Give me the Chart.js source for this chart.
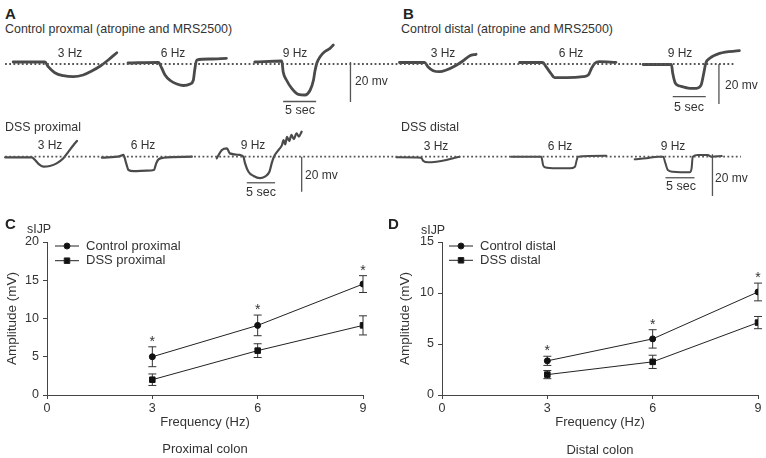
<!DOCTYPE html>
<html>
<head>
<meta charset="utf-8">
<script src="https://cdn.jsdelivr.net/npm/chart.js@4.4.1/dist/chart.umd.min.js"></script>
<style>
  body { margin: 0; width: 766px; height: 458px; background: #fff; position: relative; overflow: hidden;
         font-family: "Liberation Sans", Arial, sans-serif; color: #333; }
  canvas { position: absolute; }
  .t { position: absolute; white-space: nowrap; font-size: 12px; line-height: 1; }
  .cc { transform: translate(-50%, -50%); }
  .lc { transform: translate(0, -50%); }
  .hd { font-size: 13.5px; transform: translate(0, -50%) scaleX(0.92); transform-origin: 0 50%; }
  .big { font-size: 15px; font-weight: bold; color: #222; }
  .sub { font-size: 13px; }
  .sec { font-size: 12.5px; }
</style>
</head>
<body>

<canvas id="aTop" width="383" height="80" style="left:0;top:38px"></canvas>
<canvas id="bTop" width="383" height="80" style="left:383px;top:38px"></canvas>
<canvas id="aBot" width="383" height="85" style="left:0;top:120px"></canvas>
<canvas id="bBot" width="383" height="85" style="left:383px;top:120px"></canvas>
<canvas id="cChart" width="383" height="233" style="left:0;top:225px"></canvas>
<canvas id="dChart" width="383" height="233" style="left:383px;top:225px"></canvas>

<!-- panel A / B texts -->
<div class="t lc big" style="left:5px;top:13px">A</div>
<div class="t lc big" style="left:403px;top:13px">B</div>
<div class="t hd" style="left:5px;top:29px">Control proxmal (atropine and MRS2500)</div>
<div class="t hd" style="left:401px;top:29px">Control distal (atropine and MRS2500)</div>
<div class="t cc" style="left:70px;top:53px">3 Hz</div>
<div class="t cc" style="left:173px;top:53px">6 Hz</div>
<div class="t cc" style="left:295px;top:53px">9 Hz</div>
<div class="t cc" style="left:443px;top:53px">3 Hz</div>
<div class="t cc" style="left:571px;top:53px">6 Hz</div>
<div class="t cc" style="left:680px;top:53px">9 Hz</div>
<div class="t lc" style="left:355px;top:81px">20 mv</div>
<div class="t lc" style="left:725px;top:85px">20 mv</div>
<div class="t cc sec" style="left:300px;top:110px">5 sec</div>
<div class="t cc sec" style="left:689px;top:107px">5 sec</div>

<div class="t hd" style="left:5px;top:127px">DSS proximal</div>
<div class="t hd" style="left:401px;top:127px">DSS distal</div>
<div class="t cc" style="left:50px;top:145px">3 Hz</div>
<div class="t cc" style="left:143px;top:145px">6 Hz</div>
<div class="t cc" style="left:253px;top:145px">9 Hz</div>
<div class="t cc" style="left:436px;top:146px">3 Hz</div>
<div class="t cc" style="left:560px;top:146px">6 Hz</div>
<div class="t cc" style="left:673px;top:146px">9 Hz</div>
<div class="t lc" style="left:305px;top:175px">20 mv</div>
<div class="t lc" style="left:715px;top:178px">20 mv</div>
<div class="t cc sec" style="left:261px;top:192px">5 sec</div>
<div class="t cc sec" style="left:681px;top:186px">5 sec</div>

<!-- panel C / D texts -->
<div class="t lc big" style="left:5px;top:223px">C</div>
<div class="t lc big" style="left:388px;top:223px">D</div>
<div class="t hd" style="left:27px;top:229px">sIJP</div>
<div class="t hd" style="left:421px;top:230px">sIJP</div>
<div class="t cc sub" style="left:205px;top:448px">Proximal colon</div>
<div class="t cc sub" style="left:600px;top:449px">Distal colon</div>

<script>
// --- sIJP amplitude (mV), mean and SEM per stimulation frequency ---
const freqHz = [3, 6, 9];
const proxControl = [5.0, 9.1, 14.5];
const proxControlSem = [1.3, 1.35, 1.1];
const proxDss = [2.0, 5.8, 9.1];
const proxDssSem = [0.75, 0.9, 1.25];
const distControl = [3.35, 5.5, 10.1];
const distControlSem = [0.45, 0.9, 0.87];
const distDss = [2.0, 3.25, 7.1];
const distDssSem = [0.4, 0.65, 0.6];
const proxSignificant = [true, true, true];
const distSignificant = [true, true, true];

// --- representative recordings: [time (s), membrane potential (mV)] ---
const ctlProx3 = [[2.0,1.0],[6.8,1.0],[7.3,-1.35],[8.3,-4.35],[9.6,-5.85],[11.1,-6.35],[12.6,-5.5],[13.9,-3.5],[15.2,-1.0],[16.4,2.0],[17.7,5.65]];
const ctlProx6 = [[19.4,0.5],[24.0,0.8],[24.5,-2],[25.0,-5.5],[25.8,-8.25],[26.8,-10],[27.8,-10.75],[28.8,-10],[29.3,-8],[29.5,-3],[29.8,2],[31.8,2.5],[34.3,2.85]];
const ctlProx9 = [[38.6,1],[42.7,1.5],[42.9,-3.85],[43.4,-8],[44.2,-12.15],[45.2,-15.15],[46.2,-15.5],[47.0,-13],[47.5,-8],[47.7,-3.85],[48.0,0.35],[48.5,3.65],[49.2,6.15],[50.0,7.85],[50.5,9.5]];
const ctlDist3 = [[2.5,0.75],[6.3,0.75],[6.8,-1.35],[7.6,-3.35],[8.6,-3.85],[9.6,-3],[10.9,-1],[12.1,1.5],[13.1,4],[14.1,4.85]];
const ctlDist6 = [[20.7,0.75],[24.2,0.75],[24.7,-1.35],[25.5,-5],[26.0,-6.85],[27.8,-6.85],[30.3,-6.35],[31.1,-5.5],[31.6,-2.15],[32.1,0.35],[32.8,1.15],[35.3,0.85]];
const ctlDist9 = [[39.4,-0.25],[43.7,-0.25],[43.9,-4.65],[44.3,-9.65],[45.0,-11],[46.5,-12.15],[47.5,-12.15],[48.2,-10.5],[48.6,-4.65],[48.9,0.35],[49.5,2.85],[51.0,5.35],[54.0,6.65]];
const dssProx3 = [[0.9,-0.35],[5.6,-0.35],[6.2,-1.9],[6.8,-4.1],[7.7,-5.7],[8.8,-5.3],[10.0,-3.8],[11.2,-0.9],[12.1,2.9],[13.0,6.7],[13.6,9.0]];
const dssProx6 = [[18.0,-0.5],[21.2,0.3],[21.8,1.0],[22.3,-3.8],[22.7,-7.6],[23.6,-8.2],[25.9,-8.0],[27.2,-7.6],[27.6,-3.8],[28.0,-1.5],[28.9,-0.6],[33.9,0]];
const dssProx9 = [[38.3,-0.9],[39.2,3.8],[40.1,4.8],[40.6,1.9],[42.4,1.0],[43.0,0],[43.3,-3.8],[43.9,-8.6],[44.8,-11.0],[45.9,-12.3],[46.8,-11.4],[47.6,-8.6],[48.0,-3.8],[48.4,0],[49.2,3.8],[49.8,6.5],[50.1,9.5],[50.4,7.0],[50.7,11.4],[51.1,9.0],[51.5,12.5],[51.9,10.0],[52.4,13.4],[52.8,11.5],[53.3,14.3]];
const dssDist3 = [[2.3,-0.3],[6.6,-0.5],[6.9,-1.9],[7.8,-2.7],[9.2,-2.4],[10.9,-1.6],[12.4,-0.5],[13.2,0]];
const dssDist6 = [[22.1,0],[27.3,0],[27.6,-4.0],[27.9,-5.1],[29.9,-5.6],[32.2,-5.6],[33.1,-4.8],[33.4,-1.6],[33.6,0],[38.5,0.5]];
const dssDist9 = [[43.4,-1.25],[45.4,-0.8],[47.4,0],[48.3,0],[48.7,-3.2],[49.1,-6.4],[50.0,-7.2],[52.9,-7.5],[53.2,-5.6],[53.4,0],[54.3,0.8],[56.0,0.8],[56.6,0],[58.4,0.3]];

// resting level span [start s, end s], 5 sec bar [start s, level mV], 20 mV bar [time s, top mV]
const ctlProxBase = [0.76, 58.03], ctlProxSecBar = [42.9, -18.75], ctlProxMvBar = [53.1, 1.0];
const ctlDistBase = [0, 53.3],     ctlDistSecBar = [43.9, -16.35], ctlDistMvBar = [50.9, 0];
const dssProxBase = [0.9, 67.7],   dssProxSecBar = [43.6, -14.9],  dssProxMvBar = [53.3, 0];
const dssDistBase = [0, 61.7],     dssDistSecBar = [48.7, -10.1],  dssDistMvBar = [56.8, 1.15];
const SEC_BAR = 5, MV_BAR = 20;

Chart.defaults.font.family = "'Liberation Sans', Arial, sans-serif";
Chart.defaults.color = '#333';

function traceChart(id, traces, base, secBar, mvBar, xMax, yMin, yMax, lw) {
  const datasets = [{
    data: base.map(t => ({ x: t, y: 0 })),
    borderColor: '#555', borderWidth: 1.8, borderDash: [1.8, 2.4], borderCapStyle: 'butt'
  }];
  traces.forEach(tr => datasets.push({
    data: tr.map(p => ({ x: p[0], y: p[1] })),
    borderColor: '#4a4a4a', borderWidth: lw, cubicInterpolationMode: 'monotone', borderCapStyle: 'round'
  }));
  datasets.push({ data: [{ x: secBar[0], y: secBar[1] }, { x: secBar[0] + SEC_BAR, y: secBar[1] }], borderColor: '#555', borderWidth: 1.3 });
  datasets.push({ data: [{ x: mvBar[0], y: mvBar[1] }, { x: mvBar[0], y: mvBar[1] - MV_BAR }], borderColor: '#555', borderWidth: 1.3 });

  new Chart(document.getElementById(id), {
    type: 'scatter',
    data: { datasets: datasets.map(d => Object.assign({ showLine: true, clip: false, pointRadius: 0 }, d)) },
    options: {
      responsive: false, animation: false, events: [],
      layout: { padding: 0 },
      plugins: { legend: { display: false }, tooltip: { enabled: false } },
      scales: {
        x: { type: 'linear', display: false, min: 0, max: xMax },
        y: { type: 'linear', display: false, min: yMin, max: yMax }
      }
    }
  });
}

traceChart('aTop', [ctlProx3, ctlProx6, ctlProx9], ctlProxBase, ctlProxSecBar, ctlProxMvBar, 58.03, -27, 13, 2.8);
traceChart('bTop', [ctlDist3, ctlDist6, ctlDist9], ctlDistBase, ctlDistSecBar, ctlDistMvBar, 58.03, -27, 13, 2.8);
traceChart('aBot', [dssProx3, dssProx6, dssProx9], dssProxBase, dssProxSecBar, dssProxMvBar, 67.67, -27.6, 20.97, 2.2);
traceChart('bBot', [dssDist3, dssDist6, dssDist9], dssDistBase, dssDistSecBar, dssDistMvBar, 66.03, -23.17, 17.6, 2.0);

// --- plugins for the amplitude plots ---
const errorBarPlugin = {
  id: 'errorBars',
  beforeDatasetsDraw(chart) {
    const { ctx, scales: { x, y } } = chart;
    ctx.save();
    ctx.strokeStyle = '#333';
    ctx.lineWidth = 1;
    chart.data.datasets.forEach(ds => {
      (ds.errorBars || []).forEach((e, i) => {
        const p = ds.data[i];
        const px = x.getPixelForValue(p.x);
        const top = y.getPixelForValue(p.y + e);
        const bot = y.getPixelForValue(p.y - e);
        ctx.beginPath();
        ctx.moveTo(px, top); ctx.lineTo(px, bot);
        ctx.moveTo(px - 4, top); ctx.lineTo(px + 4, top);
        ctx.moveTo(px - 4, bot); ctx.lineTo(px + 4, bot);
        ctx.stroke();
      });
    });
    ctx.restore();
  }
};

const starPlugin = {
  id: 'sigStars',
  afterDatasetsDraw(chart, args, opts) {
    const { ctx, scales: { x, y } } = chart;
    const ds = chart.data.datasets[0];
    ctx.save();
    ctx.fillStyle = '#333';
    ctx.font = "14px 'Liberation Sans', Arial, sans-serif";
    ctx.textAlign = 'center';
    ctx.textBaseline = 'alphabetic';
    (opts.marks || []).forEach((m, i) => {
      if (!m) return;
      const p = ds.data[i];
      ctx.fillText('*', x.getPixelForValue(p.x), y.getPixelForValue(p.y + ds.errorBars[i]) - 1);
    });
    ctx.restore();
  }
};

const miniLegend = {
  id: 'miniLegend',
  afterDraw(chart, args, opts) {
    const { ctx, chartArea } = chart;
    const x0 = chartArea.left + opts.dx;
    chart.data.datasets.forEach((ds, i) => {
      const yy = chartArea.top + opts.dy + i * opts.gap;
      ctx.save();
      ctx.strokeStyle = '#222';
      ctx.fillStyle = '#111';
      ctx.lineWidth = 1;
      ctx.beginPath();
      ctx.moveTo(x0, yy); ctx.lineTo(x0 + 24, yy);
      ctx.stroke();
      Chart.helpers.drawPoint(ctx, { pointStyle: ds.pointStyle, radius: ds.pointRadius, rotation: 0, borderWidth: 1 }, x0 + 12, yy);
      ctx.fillStyle = '#333';
      ctx.font = "13px 'Liberation Sans', Arial, sans-serif";
      ctx.textBaseline = 'middle';
      ctx.textAlign = 'left';
      ctx.fillText(ds.label, x0 + 31, yy);
      ctx.restore();
    });
  }
};

function series(label, values, sem, style) {
  return {
    label: label,
    data: freqHz.map((f, i) => ({ x: f, y: values[i] })),
    errorBars: sem,
    showLine: true,
    borderColor: '#222',
    borderWidth: 1,
    pointStyle: style,
    pointRadius: style === 'rect' ? 3.9 : 3,
    pointBackgroundColor: '#111',
    pointBorderColor: '#111',
    pointBorderWidth: 1
  };
}

function ampChart(id, sets, yMax, yStep, marks, pad, yWidth, yTitlePad, legendPos) {
  const axisGrid = { drawOnChartArea: false, drawTicks: true, tickLength: 4, color: '#444', lineWidth: 1 };
  new Chart(document.getElementById(id), {
    type: 'scatter',
    data: { datasets: sets },
    options: {
      responsive: false, animation: false, events: [],
      layout: { padding: pad },
      plugins: {
        legend: { display: false }, tooltip: { enabled: false },
        sigStars: { marks: marks },
        miniLegend: legendPos
      },
      scales: {
        x: {
          type: 'linear', min: 0, max: 9,
          ticks: { stepSize: 3, padding: 2, color: '#333', font: { size: 12.5 } },
          grid: axisGrid,
          border: { display: true, color: '#444', width: 1 },
          title: { display: true, text: 'Frequency (Hz)', color: '#333', font: { size: 13 }, padding: { top: 0, bottom: 28 } },
          afterFit: s => { s.height = 63; }
        },
        y: {
          type: 'linear', min: 0, max: yMax,
          ticks: { stepSize: yStep, padding: 4, color: '#333', font: { size: 12.5 } },
          grid: axisGrid,
          border: { display: true, color: '#444', width: 1 },
          title: { display: true, text: 'Amplitude (mV)', color: '#333', font: { size: 13.5 }, padding: { top: yTitlePad, bottom: 0 } },
          afterFit: s => { s.width = yWidth; }
        }
      }
    },
    plugins: [errorBarPlugin, starPlugin, miniLegend]
  });
}

ampChart('cChart',
  [series('Control proximal', proxControl, proxControlSem, 'circle'),
   series('DSS proximal', proxDss, proxDssSem, 'rect')],
  20, 5, proxSignificant, { left: 0, right: 20, top: 17, bottom: 0 }, 47, 4,
  { dx: 8, dy: 4, gap: 14.7 });

ampChart('dChart',
  [series('Control distal', distControl, distControlSem, 'circle'),
   series('DSS distal', distDss, distDssSem, 'rect')],
  15, 5, distSignificant, { left: 0, right: 8, top: 17, bottom: 0 }, 59, 14,
  { dx: 7, dy: 4, gap: 14.3 });
</script>
</body>
</html>
